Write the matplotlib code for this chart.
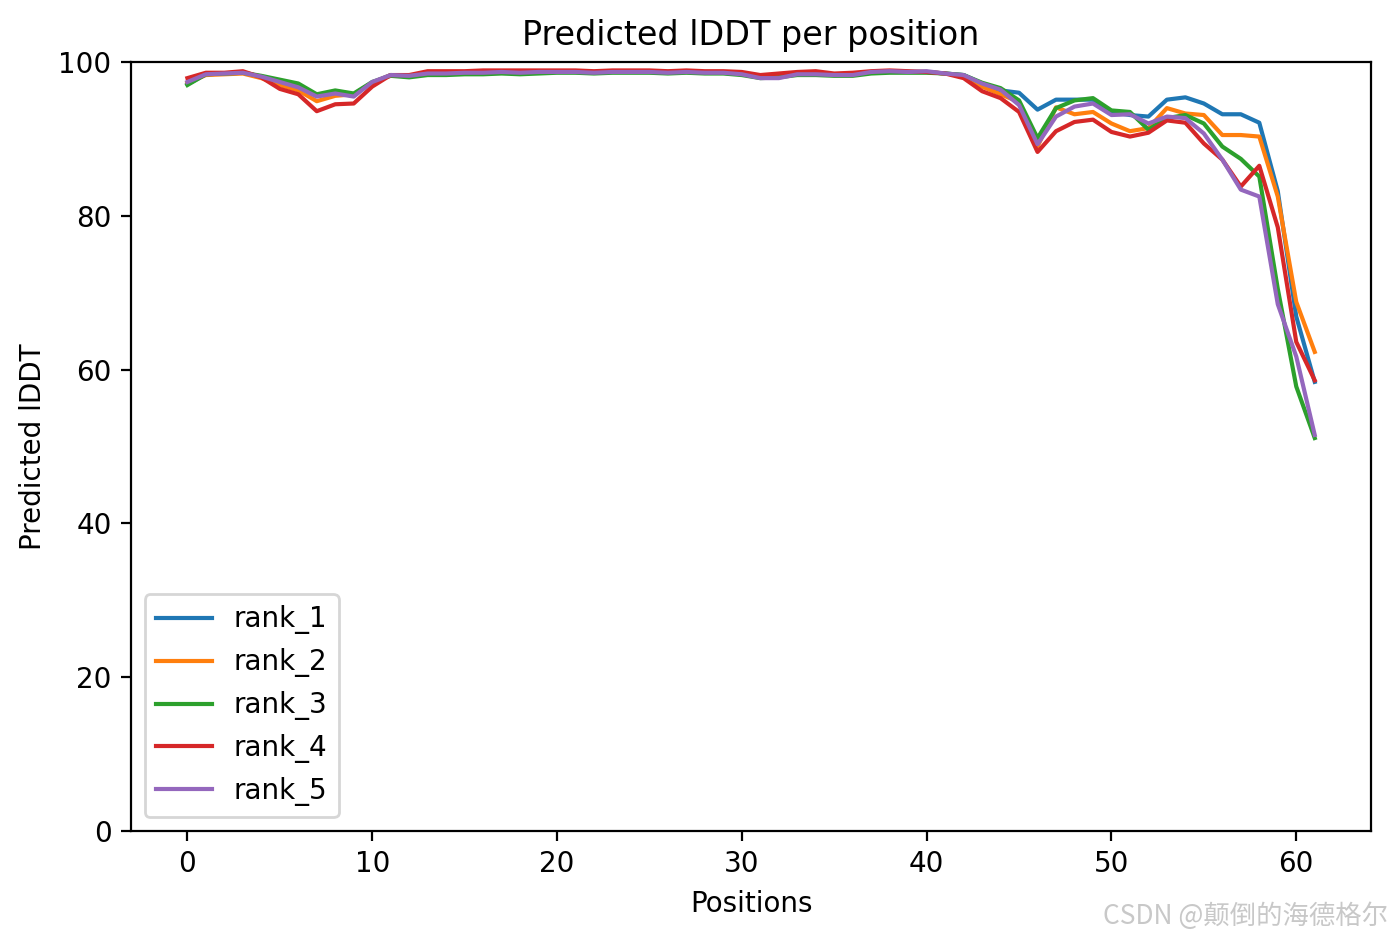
import matplotlib
matplotlib.use("Agg")
import matplotlib.pyplot as plt
import numpy as np

# pLDDT values per position
positions = list(range(62))

rank_1 = [97.1, 98.4, 98.5, 98.6, 98.1, 97.5, 96.9, 95.6, 96.1, 95.8,
          97.3, 98.3, 98.2, 98.5, 98.5, 98.6, 98.6, 98.7, 98.6, 98.7,
          98.7, 98.7, 98.6, 98.7, 98.7, 98.7, 98.6, 98.7, 98.6, 98.6,
          98.4, 98.0, 98.1, 98.5, 98.5, 98.4, 98.4, 98.7, 98.8, 98.7,
          98.7, 98.5, 98.3, 97.2, 96.3, 96.0, 93.8, 95.1, 95.1, 95.1,
          93.5, 93.1, 92.9, 95.1, 95.4, 94.6, 93.2, 93.2, 92.1, 83.2,
          66.9, 58.4]

rank_2 = [97.3, 98.3, 98.4, 98.5, 97.9, 97.0, 96.3, 94.9, 95.6, 95.8,
          97.3, 98.3, 98.2, 98.6, 98.6, 98.6, 98.7, 98.7, 98.7, 98.7,
          98.8, 98.7, 98.7, 98.8, 98.8, 98.7, 98.7, 98.7, 98.6, 98.6,
          98.5, 98.1, 98.2, 98.5, 98.6, 98.4, 98.4, 98.7, 98.8, 98.7,
          98.7, 98.5, 98.2, 96.8, 95.8, 94.8, 89.0, 94.1, 93.2, 93.5,
          92.0, 91.0, 91.4, 94.0, 93.3, 93.1, 90.5, 90.5, 90.3, 82.5,
          68.8, 62.3]

rank_3 = [97.0, 98.4, 98.5, 98.6, 98.2, 97.7, 97.2, 95.8, 96.3, 95.9,
          97.4, 98.2, 98.0, 98.3, 98.3, 98.4, 98.4, 98.5, 98.4, 98.5,
          98.6, 98.6, 98.5, 98.6, 98.6, 98.6, 98.5, 98.6, 98.5, 98.5,
          98.3, 97.9, 98.0, 98.3, 98.3, 98.2, 98.2, 98.5, 98.6, 98.6,
          98.6, 98.5, 98.3, 97.3, 96.6, 95.0, 90.1, 94.0, 95.0, 95.3,
          93.7, 93.5, 91.2, 92.7, 93.1, 92.0, 89.0, 87.4, 85.1, 70.5,
          57.8, 51.1]

rank_4 = [97.9, 98.6, 98.6, 98.8, 98.0, 96.5, 95.8, 93.6, 94.5, 94.6,
          96.8, 98.3, 98.3, 98.8, 98.8, 98.8, 98.9, 98.9, 98.9, 98.9,
          98.9, 98.9, 98.8, 98.9, 98.9, 98.9, 98.8, 98.9, 98.8, 98.8,
          98.7, 98.3, 98.5, 98.7, 98.8, 98.5, 98.6, 98.8, 98.9, 98.8,
          98.7, 98.5, 97.9, 96.2, 95.3, 93.5, 88.3, 91.0, 92.2, 92.5,
          90.9, 90.3, 90.8, 92.4, 92.1, 89.4, 87.3, 83.8, 86.5, 78.5,
          63.6, 58.6]

rank_5 = [97.4, 98.4, 98.5, 98.6, 98.1, 97.4, 96.7, 95.5, 95.9, 95.5,
          97.4, 98.3, 98.2, 98.5, 98.5, 98.6, 98.6, 98.7, 98.6, 98.7,
          98.7, 98.7, 98.6, 98.7, 98.7, 98.7, 98.6, 98.7, 98.6, 98.6,
          98.4, 97.9, 97.9, 98.4, 98.4, 98.3, 98.3, 98.7, 98.8, 98.7,
          98.8, 98.5, 98.3, 97.2, 96.4, 94.4, 89.3, 92.9, 94.2, 94.6,
          93.1, 93.2, 92.0, 92.9, 92.7, 90.7, 87.3, 83.4, 82.5, 68.5,
          61.7, 51.5]

series = [rank_1, rank_2, rank_3, rank_4, rank_5]
labels = ["rank_1", "rank_2", "rank_3", "rank_4", "rank_5"]

fig = plt.figure(figsize=(1391 / 200, 939 / 200), dpi=200)
ax = fig.add_axes([0.0942, 0.115, 0.8915, 0.819])

for vals, lab in zip(series, labels):
    ax.plot(positions, vals, label=lab, linewidth=1.5)

ax.set_ylim(0, 100)
ax.set_title("Predicted lDDT per position")
ax.set_xlabel("Positions")
ax.set_ylabel("Predicted lDDT")
ax.legend(loc="lower left")

# watermark
fig.text(0.998, 0.024, "CSDN @颠倒的海德格尔", ha="right", va="center",
         fontsize=9.5, color="#c8c8c8",
         family=["Noto Sans CJK SC", "DejaVu Sans"])

fig.savefig("out.png", dpi=200)
